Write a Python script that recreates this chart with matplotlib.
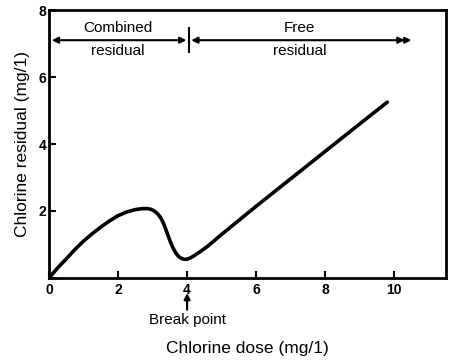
import numpy as np
import matplotlib
matplotlib.use("Agg")
import matplotlib.pyplot as plt

plt.rcParams['font.family'] = ['Liberation Sans', 'DejaVu Sans']

# curve
dose = [0, 0.25, 0.5, 0.75, 1.0, 1.25, 1.5, 1.75, 2.0, 2.25, 2.5, 2.7, 2.85,
        2.95, 3.05, 3.15, 3.22, 3.3, 3.38, 3.46, 3.53, 3.6, 3.66, 3.72, 3.78,
        3.84, 3.9, 3.95, 4.0, 4.1, 4.2, 4.3, 4.4, 4.6, 5.0, 6.0, 7.0,
        8.0, 9.0, 9.8]
residual = [0, 0.3, 0.57, 0.85, 1.1, 1.32, 1.52, 1.7, 1.86, 1.97, 2.04, 2.07,
            2.07, 2.05, 2.0, 1.91, 1.82, 1.67, 1.46, 1.23, 1.04, 0.88, 0.77,
            0.68, 0.62, 0.58, 0.56, 0.555, 0.56, 0.6, 0.66, 0.73, 0.8, 0.95,
            1.3, 2.14, 2.96, 3.78, 4.6, 5.25]
xticks = [0, 2, 4, 6, 8, 10]
yticks = [2, 4, 6, 8]
break_x = 4

fig = plt.figure(figsize=(4.5, 3.6), dpi=100)
ax = fig.add_axes([0.109, 0.228, 0.882, 0.744])
ax.plot(dose, residual, color='black', lw=2.6, solid_capstyle='round',
        solid_joinstyle='round')
ax.set_xlim(0, 11.5)
ax.set_ylim(0, 8)
ax.set_xticks(xticks)
ax.set_yticks(yticks)
ax.tick_params(direction='in', length=5, width=1.5, labelsize=10)
for lab in ax.get_xticklabels() + ax.get_yticklabels():
    lab.set_fontweight('bold')
ax.tick_params(axis='x', pad=4)
ax.tick_params(axis='y', pad=2)
for s in ax.spines.values():
    s.set_linewidth(2)

# region arrows
ax.annotate('', xy=(0.08, 7.1), xytext=(3.98, 7.1),
            arrowprops=dict(arrowstyle='<|-|>', color='black', lw=1.5,
                            mutation_scale=9, shrinkA=0, shrinkB=0))
ax.plot([4.05, 4.05], [6.75, 7.45], color='black', lw=1.5)
ax.annotate('', xy=(4.12, 7.1), xytext=(10.3, 7.1),
            arrowprops=dict(arrowstyle='<|-|>', color='black', lw=1.5,
                            mutation_scale=9, shrinkA=0, shrinkB=0))
ax.annotate('', xy=(10.5, 7.1), xytext=(10.2, 7.1),
            arrowprops=dict(arrowstyle='-|>', color='black', lw=1.5,
                            mutation_scale=9, shrinkA=0, shrinkB=0))
ax.text(2.0, 7.45, 'Combined', ha='center', va='center', fontsize=11)
ax.text(2.0, 6.78, 'residual', ha='center', va='center', fontsize=11)
ax.text(7.25, 7.45, 'Free', ha='center', va='center', fontsize=11)
ax.text(7.25, 6.78, 'residual', ha='center', va='center', fontsize=11)

# break point marker below axis
ax.annotate('', xy=(break_x, -0.45), xytext=(break_x, -0.95),
            xycoords='data', annotation_clip=False,
            arrowprops=dict(arrowstyle='-|>', color='black', lw=1.5,
                            mutation_scale=9, shrinkA=0, shrinkB=0))
ax.text(break_x, -1.25, 'Break point', ha='center', va='center', fontsize=11,
        clip_on=False)

ax.set_xlabel('Chlorine dose (mg/1)', fontsize=12.5, labelpad=31)
ax.set_ylabel('Chlorine residual (mg/1)', fontsize=12.5, labelpad=6)

fig.savefig('out.png', dpi=100)
